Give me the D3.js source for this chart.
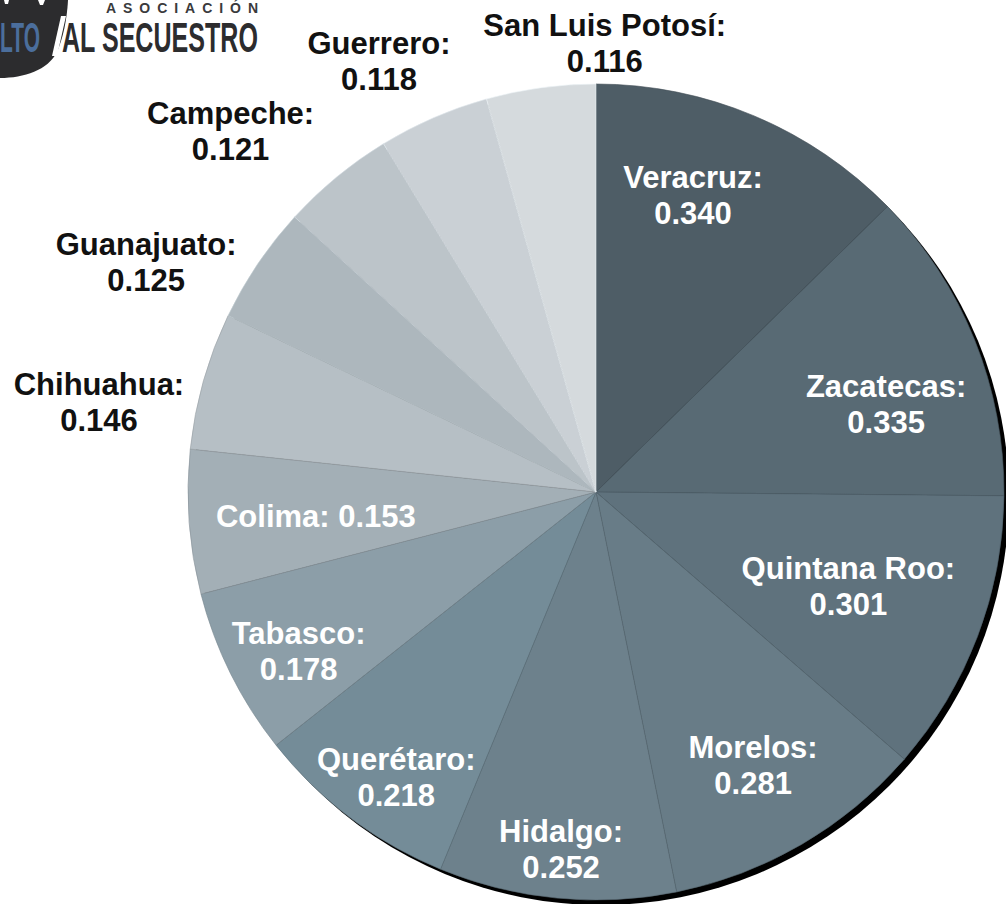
<!DOCTYPE html>
<html>
<head>
  <meta charset="utf-8">
  <script src="https://d3js.org/d3.v7.min.js"></script>
  <title>Pie chart</title>
  <style>
    body { margin: 0; background: #fff; }
    text { font-family: "Liberation Sans", Arial, sans-serif; font-weight: bold; }
  </style>
</head>
<body>
  <div class="chart"></div>
  <script type="text/javascript">
    // values, clockwise from 12 o'clock
    var states = ["Veracruz", "Zacatecas", "Quintana Roo", "Morelos", "Hidalgo",
                  "Querétaro", "Tabasco", "Colima", "Chihuahua", "Guanajuato",
                  "Campeche", "Guerrero", "San Luis Potosí"];
    var values = [0.340, 0.335, 0.301, 0.281, 0.252, 0.218, 0.178, 0.153,
                  0.146, 0.125, 0.121, 0.118, 0.116];

    var sliceColors = ["#4e5d66", "#586a74", "#5f727d", "#687c87", "#6d818c",
                       "#748c98", "#8c9ea8", "#a3afb6", "#b6bfc5", "#adb7bd",
                       "#bcc4c9", "#cad0d5", "#d5dadd"];

    var outsideLabels = ["Chihuahua", "Guanajuato", "Campeche", "Guerrero", "San Luis Potosí"];
    var oneLineLabels = ["Colima"];
    // hand placed label nudges (like the manual moves in the original)
    var labelNudge = [[-20, -19], [10, 25], [-30, -13], [5, 12], [-6, 56],
                      [-18, 44], [-27, 25], [21, 2], [-26, 44], [-44, 44],
                      [-54, 17], [-22, 18], [75, 36]];

    var width = 1006, height = 904;
    var cx = 596, cy = 492, radius = 408;
    var fontSize = 31, lineGap = 36;

    var svg = d3.select('.chart')
      .append('svg')
      .attr('width', width)
      .attr('height', height);

    var pie = d3.pie().sort(null).value(function(d) { return d; });
    var arcs = pie(values);

    var arc = d3.arc().innerRadius(0).outerRadius(radius);
    var inArc = d3.arc().innerRadius(radius * 0.74).outerRadius(radius * 0.74);
    var outArc = d3.arc().innerRadius(radius * 1.2).outerRadius(radius * 1.2);

    // black drop shadow behind the pie
    svg.append('circle')
      .attr('cx', cx + 5)
      .attr('cy', cy + 5)
      .attr('r', radius)
      .attr('fill', '#000');

    var g = svg.append('g')
      .attr('transform', 'translate(' + cx + ',' + cy + ')');

    g.selectAll('path.slice')
      .data(arcs)
      .enter()
      .append('path')
      .attr('class', 'slice')
      .attr('d', arc)
      .attr('fill', function(d, i) { return sliceColors[i]; })
      .attr('stroke', function(d, i) {
        return i < 9 ? d3.color(sliceColors[i]).darker(0.5) : d3.color(sliceColors[i]).brighter(0.3);
      })
      .attr('stroke-width', 0.6);

    var labels = g.selectAll('g.label')
      .data(arcs)
      .enter()
      .append('g')
      .attr('class', 'label')
      .attr('transform', function(d, i) {
        var outside = outsideLabels.indexOf(states[i]) >= 0;
        var p = (outside ? outArc : inArc).centroid(d);
        return 'translate(' + (p[0] + labelNudge[i][0]) + ',' + (p[1] + labelNudge[i][1]) + ')';
      });

    labels.each(function(d, i) {
      var sel = d3.select(this);
      var outside = outsideLabels.indexOf(states[i]) >= 0;
      var fill = outside ? '#111' : '#fff';
      var val = d3.format('.3f')(values[i]);
      if (oneLineLabels.indexOf(states[i]) >= 0) {
        sel.append('text')
          .attr('text-anchor', 'middle')
          .attr('y', 11)
          .attr('font-size', fontSize)
          .attr('fill', fill)
          .text(states[i] + ': ' + val);
      } else {
        sel.append('text')
          .attr('text-anchor', 'middle')
          .attr('y', -lineGap / 2 + 11)
          .attr('font-size', fontSize)
          .attr('fill', fill)
          .text(states[i] + ':');
        sel.append('text')
          .attr('text-anchor', 'middle')
          .attr('y', lineGap / 2 + 11)
          .attr('font-size', fontSize)
          .attr('fill', fill)
          .text(val);
      }
    });

    // logo in the top left corner, cut off by the frame
    var logo = svg.append('g').attr('class', 'logo');
    logo.append('path')
      .attr('d', 'M0,0 L68,0 C67,20 63,38 57,52 C48,70 24,78 0,78 Z')
      .attr('fill', '#2c2c2e');
    logo.append('path')
      .attr('d', 'M4,0 L9,0 L8,4 L5,4 Z M38,0 L45,0 L43,5 L40,5 Z')
      .attr('fill', '#fff');

    // squeeze a condensed word into a given width
    function squeezed(txt, x, y, w, color) {
      var t = logo.append('text')
        .attr('font-family', '"DejaVu Sans Condensed", "DejaVu Sans", sans-serif')
        .attr('font-size', 42)
        .attr('fill', color)
        .text(txt);
      var natural = t.node().getComputedTextLength();
      t.attr('transform', 'translate(' + x + ',' + y + ') scale(' + (w / natural) + ',1)');
      return t;
    }
    squeezed('LTO', 0, 52, 40, '#4b6e9c');
    logo.append('path')
      .attr('d', 'M52,56 L61,16 L66,16 L57,56 Z')
      .attr('fill', '#fff');
    squeezed('AL SECUESTRO', 62, 52, 196, '#2c2c2e');
    logo.append('text')
      .attr('x', 106)
      .attr('y', 13)
      .attr('font-family', '"DejaVu Sans Condensed", "DejaVu Sans", sans-serif')
      .attr('font-weight', 'normal')
      .attr('font-size', 14)
      .attr('fill', '#3a3a3c')
      .attr('textLength', 152)
      .attr('lengthAdjust', 'spacing')
      .text('ASOCIACIÓN');
  </script>
</body>
</html>
